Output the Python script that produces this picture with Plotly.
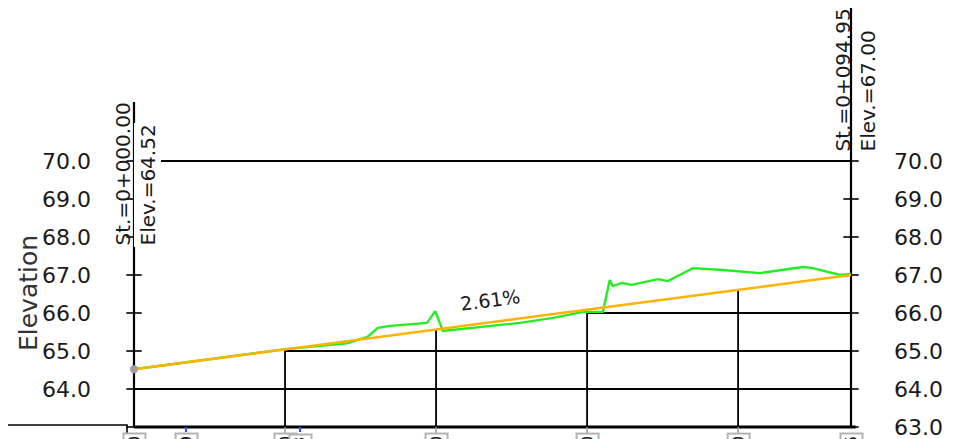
import plotly.graph_objects as go

# ---------------- data ----------------
design_st = [0.0, 94.95]
design_el = [64.52, 67.00]
grade_label = "2.61%"

ground_st = [0.0, 8.7, 17.6, 20.1, 28.2, 30.9, 32.3, 33.9, 38.8, 39.9, 40.9, 45.8,
             51.1, 55.5, 57.3, 59.5, 62.1, 63.0, 63.4, 64.6, 65.9, 69.4, 70.7,
             74.0, 78.0, 82.9, 88.6, 89.9, 93.5, 94.95]
ground_el = [64.52, 64.75, 65.00, 65.05, 65.20, 65.37, 65.61, 65.66, 65.74, 66.05,
             65.53, 65.63, 65.74, 65.87, 65.95, 66.03, 66.03, 66.87, 66.71, 66.79,
             66.74, 66.89, 66.84, 67.18, 67.13, 67.05, 67.21, 67.18, 67.00, 67.03]

elev_ticks = [63, 64, 65, 66, 67, 68, 69, 70]
left_labels = ["64.0", "65.0", "66.0", "67.0", "68.0", "69.0", "70.0"]
left_label_vals = [64, 65, 66, 67, 68, 69, 70]
right_labels = ["63.0", "64.0", "65.0", "66.0", "67.0", "68.0", "69.0", "70.0"]

grid_stations = [20, 40, 60, 80]
hgrid_elev = [64, 65, 66, 70]
hgrid_start = [0, 20, 60, 0]

box_stations = [0.0, 6.89, 20.0, 21.98, 40.0, 60.0, 80.0, 94.95]
box_texts = ["0+000.00", "0+006.89", "0+020.00", "0+021.98", "0+040.00",
             "0+060.00", "0+080.00", "0+094.95"]
blue_stations = [6.89, 21.98]

start_label = ("St.=0+000.00", "Elev.=64.52")
end_label = ("St.=0+094.95", "Elev.=67.00")

# ---------------- layout geometry (screen pixels; page body has 8px margin) ----------------
SW, SH = 954, 439
OFF = 8
W, H = SW - OFF, SH - OFF
X0PX, X1PX = 134, 851
PXX = (X1PX - X0PX) / (design_st[1] - design_st[0])
PXY = 38.0
Y70PX = 161
def sx(px):
    return design_st[0] + (px - X0PX) / PXX
def sy(py):
    return 70 - (py - Y70PX) / PXY

xr = [sx(OFF), sx(SW)]
yr = [sy(SH), sy(OFF)]

FONT = "DejaVu Sans"
TXT = "#1a1a1a"

fig = go.Figure()

def seg(xs, ys, color="black", width=1.8):
    fig.add_trace(go.Scatter(x=xs, y=ys, mode="lines", hoverinfo="skip",
                             line=dict(color=color, width=width), showlegend=False))

end_st = design_st[1]
slope = (design_el[1] - design_el[0]) / (design_st[1] - design_st[0])

# horizontal grid
for e, s0 in zip(hgrid_elev, hgrid_start):
    seg([s0, end_st], [e, e])
# vertical grid from design line down
for s in grid_stations:
    seg([s, s], [63, design_el[0] + slope * s])
# bottom axis
seg([design_st[0], end_st + 0.6], [63, 63], width=2.8)
# left/right frame
seg([design_st[0], design_st[0]], [63, sy(102)], width=2.2)
seg([end_st, end_st], [63, sy(8)], width=2.2)
# bottom-left band line
seg([sx(OFF), sx(127), sx(127)], [sy(425), sy(425), sy(433)], width=1.6)
# blue ticks
for s in blue_stations:
    seg([s, s], [63, sy(432)], color="#2255ff", width=2)
# gray stubs
for s in [20, 40, 60, 80]:
    seg([s, s], [63, sy(433)], color="#9a9a9a", width=1.5)

# tick crosses
fig.add_trace(go.Scatter(x=[design_st[0]] * len(elev_ticks), y=elev_ticks, mode="markers",
                         marker=dict(symbol="line-ew", size=11, line=dict(color="black", width=1.6)),
                         hoverinfo="skip", showlegend=False))
fig.add_trace(go.Scatter(x=[end_st] * len(elev_ticks), y=elev_ticks, mode="markers",
                         marker=dict(symbol="line-ew", size=11, line=dict(color="black", width=1.6)),
                         hoverinfo="skip", showlegend=False))

# ground
fig.add_trace(go.Scatter(x=ground_st, y=ground_el, mode="lines",
                         line=dict(color="#22ee22", width=2.4), showlegend=False, hoverinfo="skip"))
# design
fig.add_trace(go.Scatter(x=design_st, y=design_el, mode="lines",
                         line=dict(color="#ffb300", width=2.4), showlegend=False, hoverinfo="skip"))
fig.add_trace(go.Scatter(x=[design_st[0]], y=[design_el[0]], mode="markers",
                         marker=dict(color="#a0a0a0", size=8), showlegend=False, hoverinfo="skip"))

ann = []
for v, t in zip(left_label_vals, left_labels):
    ann.append(dict(x=sx(93), y=v, text=t, xanchor="right", yanchor="middle", showarrow=False,
                    font=dict(family=FONT, size=22, color=TXT)))
for v, t in zip(elev_ticks, right_labels):
    ann.append(dict(x=sx(892), y=v, text=t, xanchor="left", yanchor="middle", showarrow=False,
                    font=dict(family=FONT, size=22, color=TXT)))
ann.append(dict(x=sx(28), y=sy(293), text="Elevation", textangle=-90, showarrow=False,
                xanchor="center", yanchor="middle", font=dict(family=FONT, size=25, color="#333333")))
# station labels
ann.append(dict(x=sx(122), y=sy(248), text=start_label[0], textangle=-90, showarrow=False,
                xanchor="center", yanchor="bottom", font=dict(family=FONT, size=20, color=TXT)))
ann.append(dict(x=sx(147), y=sy(248), text=start_label[1], textangle=-90, showarrow=False,
                xanchor="center", yanchor="bottom", bgcolor="white", borderpad=1,
                font=dict(family=FONT, size=20, color=TXT)))
ann.append(dict(x=sx(842), y=sy(154), text=end_label[0], textangle=-90, showarrow=False,
                xanchor="center", yanchor="bottom", font=dict(family=FONT, size=20, color=TXT)))
ann.append(dict(x=sx(867), y=sy(154), text=end_label[1], textangle=-90, showarrow=False,
                xanchor="center", yanchor="bottom", font=dict(family=FONT, size=20, color=TXT)))
# grade label
ann.append(dict(x=sx(490), y=sy(300), text=grade_label, textangle=-7.5, showarrow=False,
                xanchor="center", yanchor="middle", font=dict(family=FONT, size=19, color=TXT)))
# bottom boxes (cut by the lower edge, as in the reference)
for s, t in zip(box_stations, box_texts):
    ann.append(dict(x=s, y=sy(433), text=t, textangle=-90, showarrow=False,
                    xanchor="center", yanchor="top", bordercolor="#b4b4b4", borderwidth=2,
                    borderpad=1, bgcolor="white", font=dict(family=FONT, size=15, color=TXT)))

fig.update_layout(
    width=W, height=H, margin=dict(l=0, r=0, t=0, b=0),
    paper_bgcolor="white", plot_bgcolor="white",
    xaxis=dict(range=xr, visible=False, fixedrange=True),
    yaxis=dict(range=yr, visible=False, fixedrange=True),
    annotations=ann, showlegend=False,
)

fig.write_html("out.html")
